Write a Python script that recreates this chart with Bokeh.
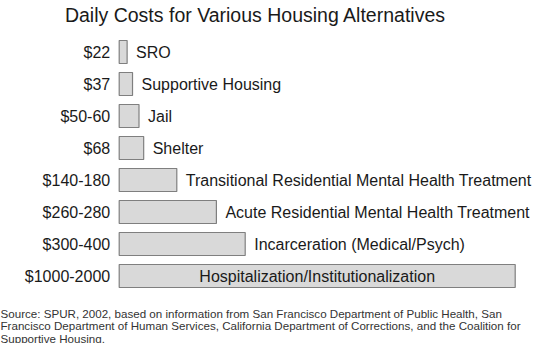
from bokeh.plotting import figure
from bokeh.models import Range1d, Label, ColumnDataSource
from bokeh.core.properties import value
from bokeh.embed import file_html
from bokeh.resources import INLINE

# ---- data ----
title_text = "Daily Costs for Various Housing Alternatives"
categories = ["SRO", "Supportive Housing", "Jail", "Shelter",
              "Transitional Residential Mental Health Treatment",
              "Acute Residential Mental Health Treatment",
              "Incarceration (Medical/Psych)",
              "Hospitalization/Institutionalization"]
cost_labels = ["$22", "$37", "$50-60", "$68", "$140-180", "$260-280", "$300-400", "$1000-2000"]
# bar length in dollars (last bar is truncated in the original drawing)
bar_values = [22, 37, 55, 68, 160, 270, 350, 1100]
source_lines = [
    "Source:  SPUR, 2002, based on information from San Francisco Department of Public Health, San",
    "Francisco Department of Human Services, California Department of Corrections, and the Coalition for",
    "Supportive Housing.",
]

# ---- layout ----
W, H = 534, 343
PX_PER_D = 0.36
X0 = 118.7
Y0, DY = 51.5, 32.0
FONT = value("Liberation Sans")

idx = list(range(len(categories)))
inside = [i == len(categories) - 1 for i in idx]
name_x = [v / 2 if ins else v for v, ins in zip(bar_values, inside)]
name_off = [0 if ins else 9 for ins in inside]
name_align = ["center" if ins else "left" for ins in inside]

src = ColumnDataSource(dict(y=idx, v=bar_values, cost=cost_labels, name=categories,
                            nx=name_x, noff=name_off, nalign=name_align,
                            zero=[0] * len(idx)))

p = figure(width=W, height=H, output_backend="svg", toolbar_location=None,
           x_range=Range1d(-X0 / PX_PER_D, (W - X0) / PX_PER_D),
           y_range=Range1d((H - Y0) / DY, -Y0 / DY),
           min_border=0)
p.axis.visible = False
p.grid.visible = False
p.outline_line_color = None
p.background_fill_color = "white"
p.border_fill_color = "white"

p.hbar(y="y", left="zero", right="v", height=23 / DY, source=src,
       fill_color="#d9d9d9", line_color="#7f7f7f", line_width=1.2)

p.text(x="zero", y="y", text="cost", source=src, x_offset=-9,
       text_align="right", text_baseline="middle", text_font=FONT,
       text_font_size="16px", text_color="#1a1a1a")

p.text(x="nx", y="y", text="name", source=src, x_offset="noff",
       text_align="nalign", text_baseline="middle", text_font=FONT,
       text_font_size="16px", text_color="#1a1a1a")

p.add_layout(Label(x=255, y=H - 14.5, x_units="screen", y_units="screen",
                   text=title_text, text_align="center", text_baseline="alphabetic",
                   text_font="Liberation Sans", text_font_size="19.5px",
                   text_color="#1a1a1a"))

for k, line in enumerate(source_lines):
    p.add_layout(Label(x=0, y=H - (312.5 + 12.5 * k), x_units="screen", y_units="screen",
                       text=line, text_align="left", text_baseline="alphabetic",
                       text_font="Liberation Sans", text_font_size="11.6px",
                       text_color="#333333"))

open("out.html", "w").write(file_html(p, INLINE))
